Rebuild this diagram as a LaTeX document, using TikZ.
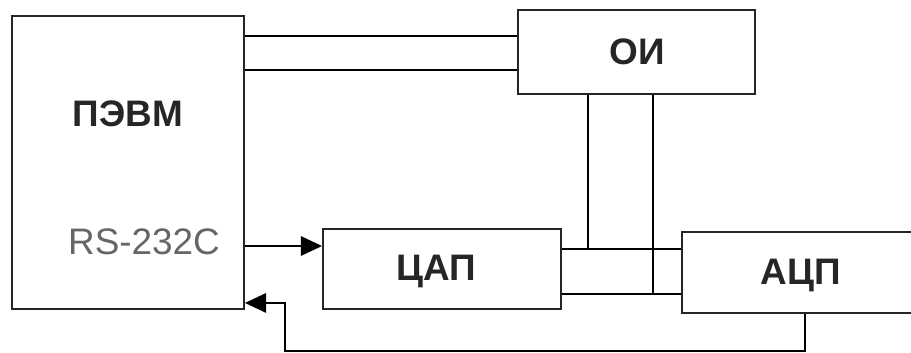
\documentclass[tikz,border=0pt]{standalone}
\usepackage{fontspec}
\setmainfont{Liberation Sans}
\usetikzlibrary{calc,arrows.meta}
\usepackage{xcolor}

\begin{document}
\begin{tikzpicture}[x=0.02cm, y=-0.02cm, line width=1.1pt,
    blok/.style={draw=black!85, rectangle, inner sep=0pt},
    metka/.style={font=\fontsize{21pt}{24pt}\selectfont\bfseries, text=black!85},
    strelka/.style={-{Triangle[length=12pt, width=11pt]}}]
    % рамка рисунка
    \clip (0, 0) rectangle (911, 352);

    % блоки схемы
    \node[blok, minimum width=4.64cm, minimum height=5.86cm] (pc) at (128, 162.5) {};
    \node[blok, minimum width=4.74cm, minimum height=1.68cm] (oi) at (636.5, 52) {};
    \node[blok, minimum width=4.76cm, minimum height=1.60cm] (dac) at (442, 269) {};
    \node[blok, minimum width=5.20cm, minimum height=1.62cm] (adc) at (812, 272.5) {};

    % надписи
    \node[metka] (pclabel) at (128, 114) {ПЭВМ};
    \node[font=\fontsize{21pt}{24pt}\selectfont, text=black!60] (rs) at (144, 242) {RS-232C};
    \node[metka] (oilabel) at (637, 52) {ОИ};
    \node[metka] (daclabel) at (436, 271) {ЦАП};
    \node[metka] (adclabel) at (801, 275) {АЦП};

    % шина ПЭВМ -- ОИ
    \draw ($(oi.west)+(0,-16)$) coordinate (t1) -- (t1 -| pc.east);
    \draw ($(oi.west)+(0,18)$) coordinate (t2) -- (t2 -| pc.east);

    % связи ЦАП -- АЦП
    \coordinate (h1) at ($(dac.east)+(0,-20)$);
    \coordinate (h2) at ($(dac.east)+(0,25)$);
    \draw (h1) -- (h1 -| adc.west);
    \draw (h2) -- (h2 -| adc.west);

    % связи ОИ -- ЦАП, АЦП
    \draw ($(oi.south)+(-48.5,0)$) coordinate (v1) -- (v1 |- h1);
    \draw ($(oi.south)+(16.5,0)$) coordinate (v2) -- (v2 |- h2);

    % RS-232C
    \draw[strelka] (pc.east |- 0,246) -- (dac.west |- 0,246);
    \coordinate (fb) at ($(pc.south east)+(0,-7)$);
    \draw[strelka] ($(adc.south)+(-7,0)$) |- ($(fb)+(40,48)$) |- (fb);
\end{tikzpicture}
\end{document}
